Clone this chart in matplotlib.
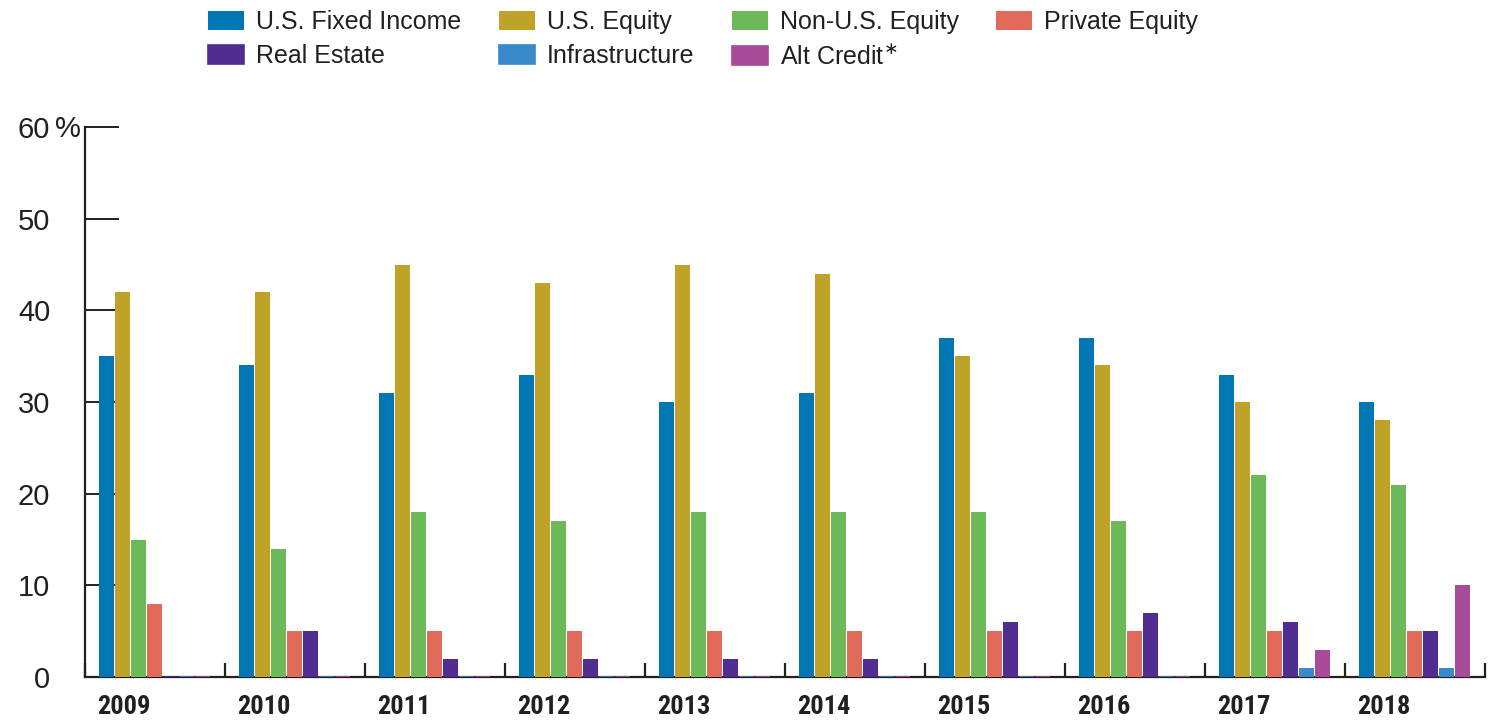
import matplotlib
matplotlib.use("Agg")
import matplotlib.pyplot as plt
from matplotlib import font_manager
import numpy as np

years = ["2009", "2010", "2011", "2012", "2013", "2014", "2015", "2016", "2017", "2018"]
series = ["U.S. Fixed Income", "U.S. Equity", "Non-U.S. Equity", "Private Equity",
          "Real Estate", "Infrastructure", "Alt Credit$^{\\ast}$"]
fixed_income = [35, 34, 31, 33, 30, 31, 37, 37, 33, 30]
us_equity = [42, 42, 45, 43, 45, 44, 35, 34, 30, 28]
non_us_equity = [15, 14, 18, 17, 18, 18, 18, 17, 22, 21]
private_equity = [8, 5, 5, 5, 5, 5, 5, 5, 5, 5]
real_estate = [0, 5, 2, 2, 2, 2, 6, 7, 6, 5]
infrastructure = [0, 0, 0, 0, 0, 0, 0, 0, 1, 1]
alt_credit = [0, 0, 0, 0, 0, 0, 0, 0, 3, 10]
colors = ["#0077B4", "#BFA228", "#6DB95A", "#E06B5A", "#522D91", "#3A8ACB", "#A84C9A"]

values = [fixed_income, us_equity, non_us_equity, private_equity,
          real_estate, infrastructure, alt_credit]

ink = "#231F20"
plt.rcParams["font.family"] = ["Liberation Sans", "DejaVu Sans"]

# condensed bold for the year labels if we have one
year_font, year_size = "Liberation Sans", 16
for fam in ["Liberation Sans Narrow", "Roboto Condensed"]:
    try:
        font_manager.findfont(font_manager.FontProperties(family=fam, weight="bold"),
                              fallback_to_default=False)
        year_font, year_size = fam, 19
        break
    except ValueError:
        pass

fig = plt.figure(figsize=(14.95, 7.22), dpi=100)
ax = fig.add_axes([85 / 1495, 45 / 722, 1400 / 1495, 550 / 722])

x = np.arange(len(years))
step = 0.8 / 7
handles = []
for i, (name, vals, c) in enumerate(zip(series, values, colors)):
    lw = [1.2 if v == 0 else 0 for v in vals]
    b = ax.bar(x + 0.1 + step * i, vals, width=step * 0.93, align="edge",
               color=c, edgecolor=c, linewidth=lw, label=name, zorder=2)
    handles.append(b)

ax.set_xlim(0, len(years))
ax.set_ylim(0, 60)

for s in ["top", "right"]:
    ax.spines[s].set_visible(False)
for s in ["left", "bottom"]:
    ax.spines[s].set_color(ink)
    ax.spines[s].set_linewidth(1.6)
    ax.spines[s].set_zorder(1.5)

ax.set_yticks(range(0, 61, 10))
ax.set_yticklabels(["0", "10", "20", "30", "40", "50", "60"])
ax.tick_params(axis="y", direction="in", length=24.5, width=1.4, color=ink,
               labelsize=21, labelcolor=ink, pad=25)
fig.text(55 / 1495, 1 - 129 / 722, "%", fontsize=21, color=ink, va="center", ha="left")

ax.set_xticks(x + 0.28)
ax.set_xticklabels(years, fontfamily=[year_font, "DejaVu Sans"],
                   fontweight="bold", fontsize=year_size, color=ink)
ax.tick_params(axis="x", length=0, pad=13)
ax.set_xticks(np.arange(0, len(years) + 1), minor=True)
ax.tick_params(axis="x", which="minor", direction="in", length=10, width=1.6, color=ink)

order = [0, 4, 1, 5, 2, 6, 3]
fig.legend([handles[i] for i in order], [series[i] for i in order],
           loc="upper left", bbox_to_anchor=(208 / 1495, 1 - 10 / 722), ncol=4, frameon=False,
           fontsize=18, handlelength=1.44, handleheight=0.8, handletextpad=0.48,
           columnspacing=1.5, labelspacing=0.4, borderaxespad=0, borderpad=0,
           labelcolor=ink)

fig.savefig("out.png", dpi=100)
